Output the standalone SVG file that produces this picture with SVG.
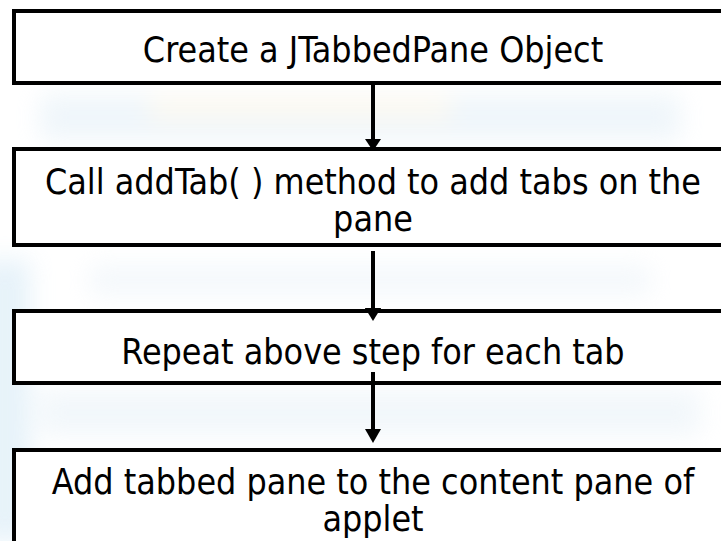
<svg xmlns="http://www.w3.org/2000/svg" width="721" height="541" viewBox="0 0 721 541">
  <defs>
    <filter id="soft" x="-50%" y="-50%" width="200%" height="200%">
      <feGaussianBlur stdDeviation="12"/>
    </filter>
  </defs>
  <style>
    .box { fill: #ffffff; stroke: #000000; stroke-width: 4; }
    .lbl { font-family: "DejaVu Sans Condensed", "DejaVu Sans", Verdana, sans-serif; font-stretch: condensed; font-size: 35.5px; fill: #000000; text-anchor: middle; }
    .conn line { stroke: #000000; stroke-width: 4; }
    .conn polygon { fill: #000000; }
  </style>
  <rect x="0" y="0" width="721" height="541" fill="#ffffff"/>
  <g id="watermark" filter="url(#soft)" opacity="0.45">
    <rect x="40" y="95" width="640" height="45" fill="#dcebf5"/>
    <rect x="150" y="98" width="300" height="20" fill="#fbf3dc"/>
    <rect x="-20" y="260" width="50" height="281" fill="#c9e3f3"/>
    <rect x="40" y="390" width="660" height="45" fill="#e2eef6"/>
    <rect x="90" y="265" width="560" height="30" fill="#e6f0f7"/>
  </g>
  <g id="connectors" class="conn">
    <line x1="373" y1="85" x2="373" y2="140"/>
    <polygon points="365,139 381,139 373,151"/>
    <line x1="373" y1="251" x2="373" y2="309"/>
    <polygon points="365,308 381,308 373,321"/>
    <line x1="373" y1="372" x2="373" y2="430"/>
    <polygon points="365,429 381,429 373,443"/>
  </g>
  <g id="node1">
    <rect class="box" x="14" y="11" width="720" height="72"/>
    <text class="lbl" x="373" y="62">Create a JTabbedPane Object</text>
  </g>
  <g id="node2">
    <rect class="box" x="14" y="149" width="720" height="96"/>
    <text class="lbl" x="373" y="194">Call addTab( ) method to add tabs on the</text>
    <text class="lbl" x="373" y="231">pane</text>
  </g>
  <g id="node3">
    <rect class="box" x="14" y="311" width="720" height="72"/>
    <text class="lbl" x="373" y="364">Repeat above step for each tab</text>
  </g>
  <g id="node4">
    <rect class="box" x="14" y="450" width="720" height="120"/>
    <text class="lbl" x="373" y="494">Add tabbed pane to the content pane of</text>
    <text class="lbl" x="373" y="531">applet</text>
  </g>
  <g id="connector-tips" class="conn">
    <polygon points="365,308 381,308 373,321"/>
    <line x1="373" y1="372" x2="373" y2="390"/>
  </g>
</svg>
